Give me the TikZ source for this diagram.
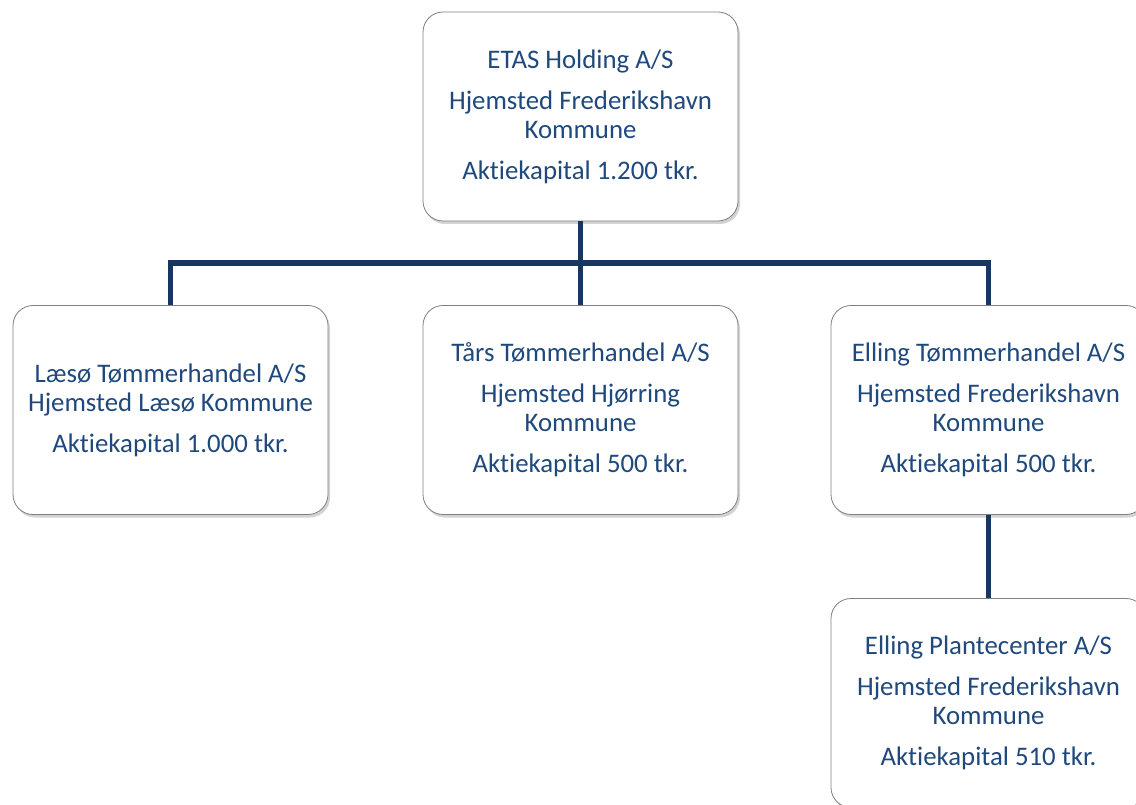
\documentclass[tikz,border=0pt]{standalone}
\usepackage{fontspec}
\setmainfont{Carlito}[Ligatures=NoCommon]
\usetikzlibrary{shadows}
\definecolor{txtblue}{HTML}{1F497D}
\definecolor{linenavy}{HTML}{17375E}
\definecolor{boxgray}{HTML}{7F7F7F}
\tikzset{
  orgbox/.style={draw=boxgray, line width=0.8pt, fill=white, rounded corners=20pt,
    minimum width=315pt, minimum height=209pt, align=center, text=txtblue,
    font=\fontsize{26.8}{29}\selectfont, inner sep=0pt,
    drop shadow={opacity=0.35, shadow xshift=2pt, shadow yshift=-3pt}},
  conn/.style={draw=linenavy, line width=5.5pt}
}
\begin{document}
\begin{tikzpicture}[x=1pt,y=-1pt]
\useasboundingbox (0,0) rectangle (1136,805);
\node[orgbox] (top) at (580.5,116.5) {ETAS Holding A/S\\[12pt]Hjemsted Frederikshavn\\Kommune\\[12pt]Aktiekapital 1.200 tkr.};
\node[orgbox] (l) at (170.5,410) {Læsø Tømmerhandel A/S\\Hjemsted Læsø Kommune\\[12pt]Aktiekapital 1.000 tkr.};
\node[orgbox] (m) at (580.5,410) {Tårs Tømmerhandel A/S\\[12pt]Hjemsted Hjørring\\Kommune\\[12pt]Aktiekapital 500 tkr.};
\node[orgbox] (r) at (988.5,410) {Elling Tømmerhandel A/S\\[12pt]Hjemsted Frederikshavn\\Kommune\\[12pt]Aktiekapital 500 tkr.};
\node[orgbox] (b) at (988.5,703) {Elling Plantecenter A/S\\[12pt]Hjemsted Frederikshavn\\Kommune\\[12pt]Aktiekapital 510 tkr.};
\coordinate (j) at (580.5,263);
\draw[conn] (top.south) -- (j);
\draw[conn] (l.north) |- (j) -| (r.north);
\draw[conn] (j) -- (m.north);
\draw[conn] (r.south) -- (b.north);
\end{tikzpicture}
\end{document}
